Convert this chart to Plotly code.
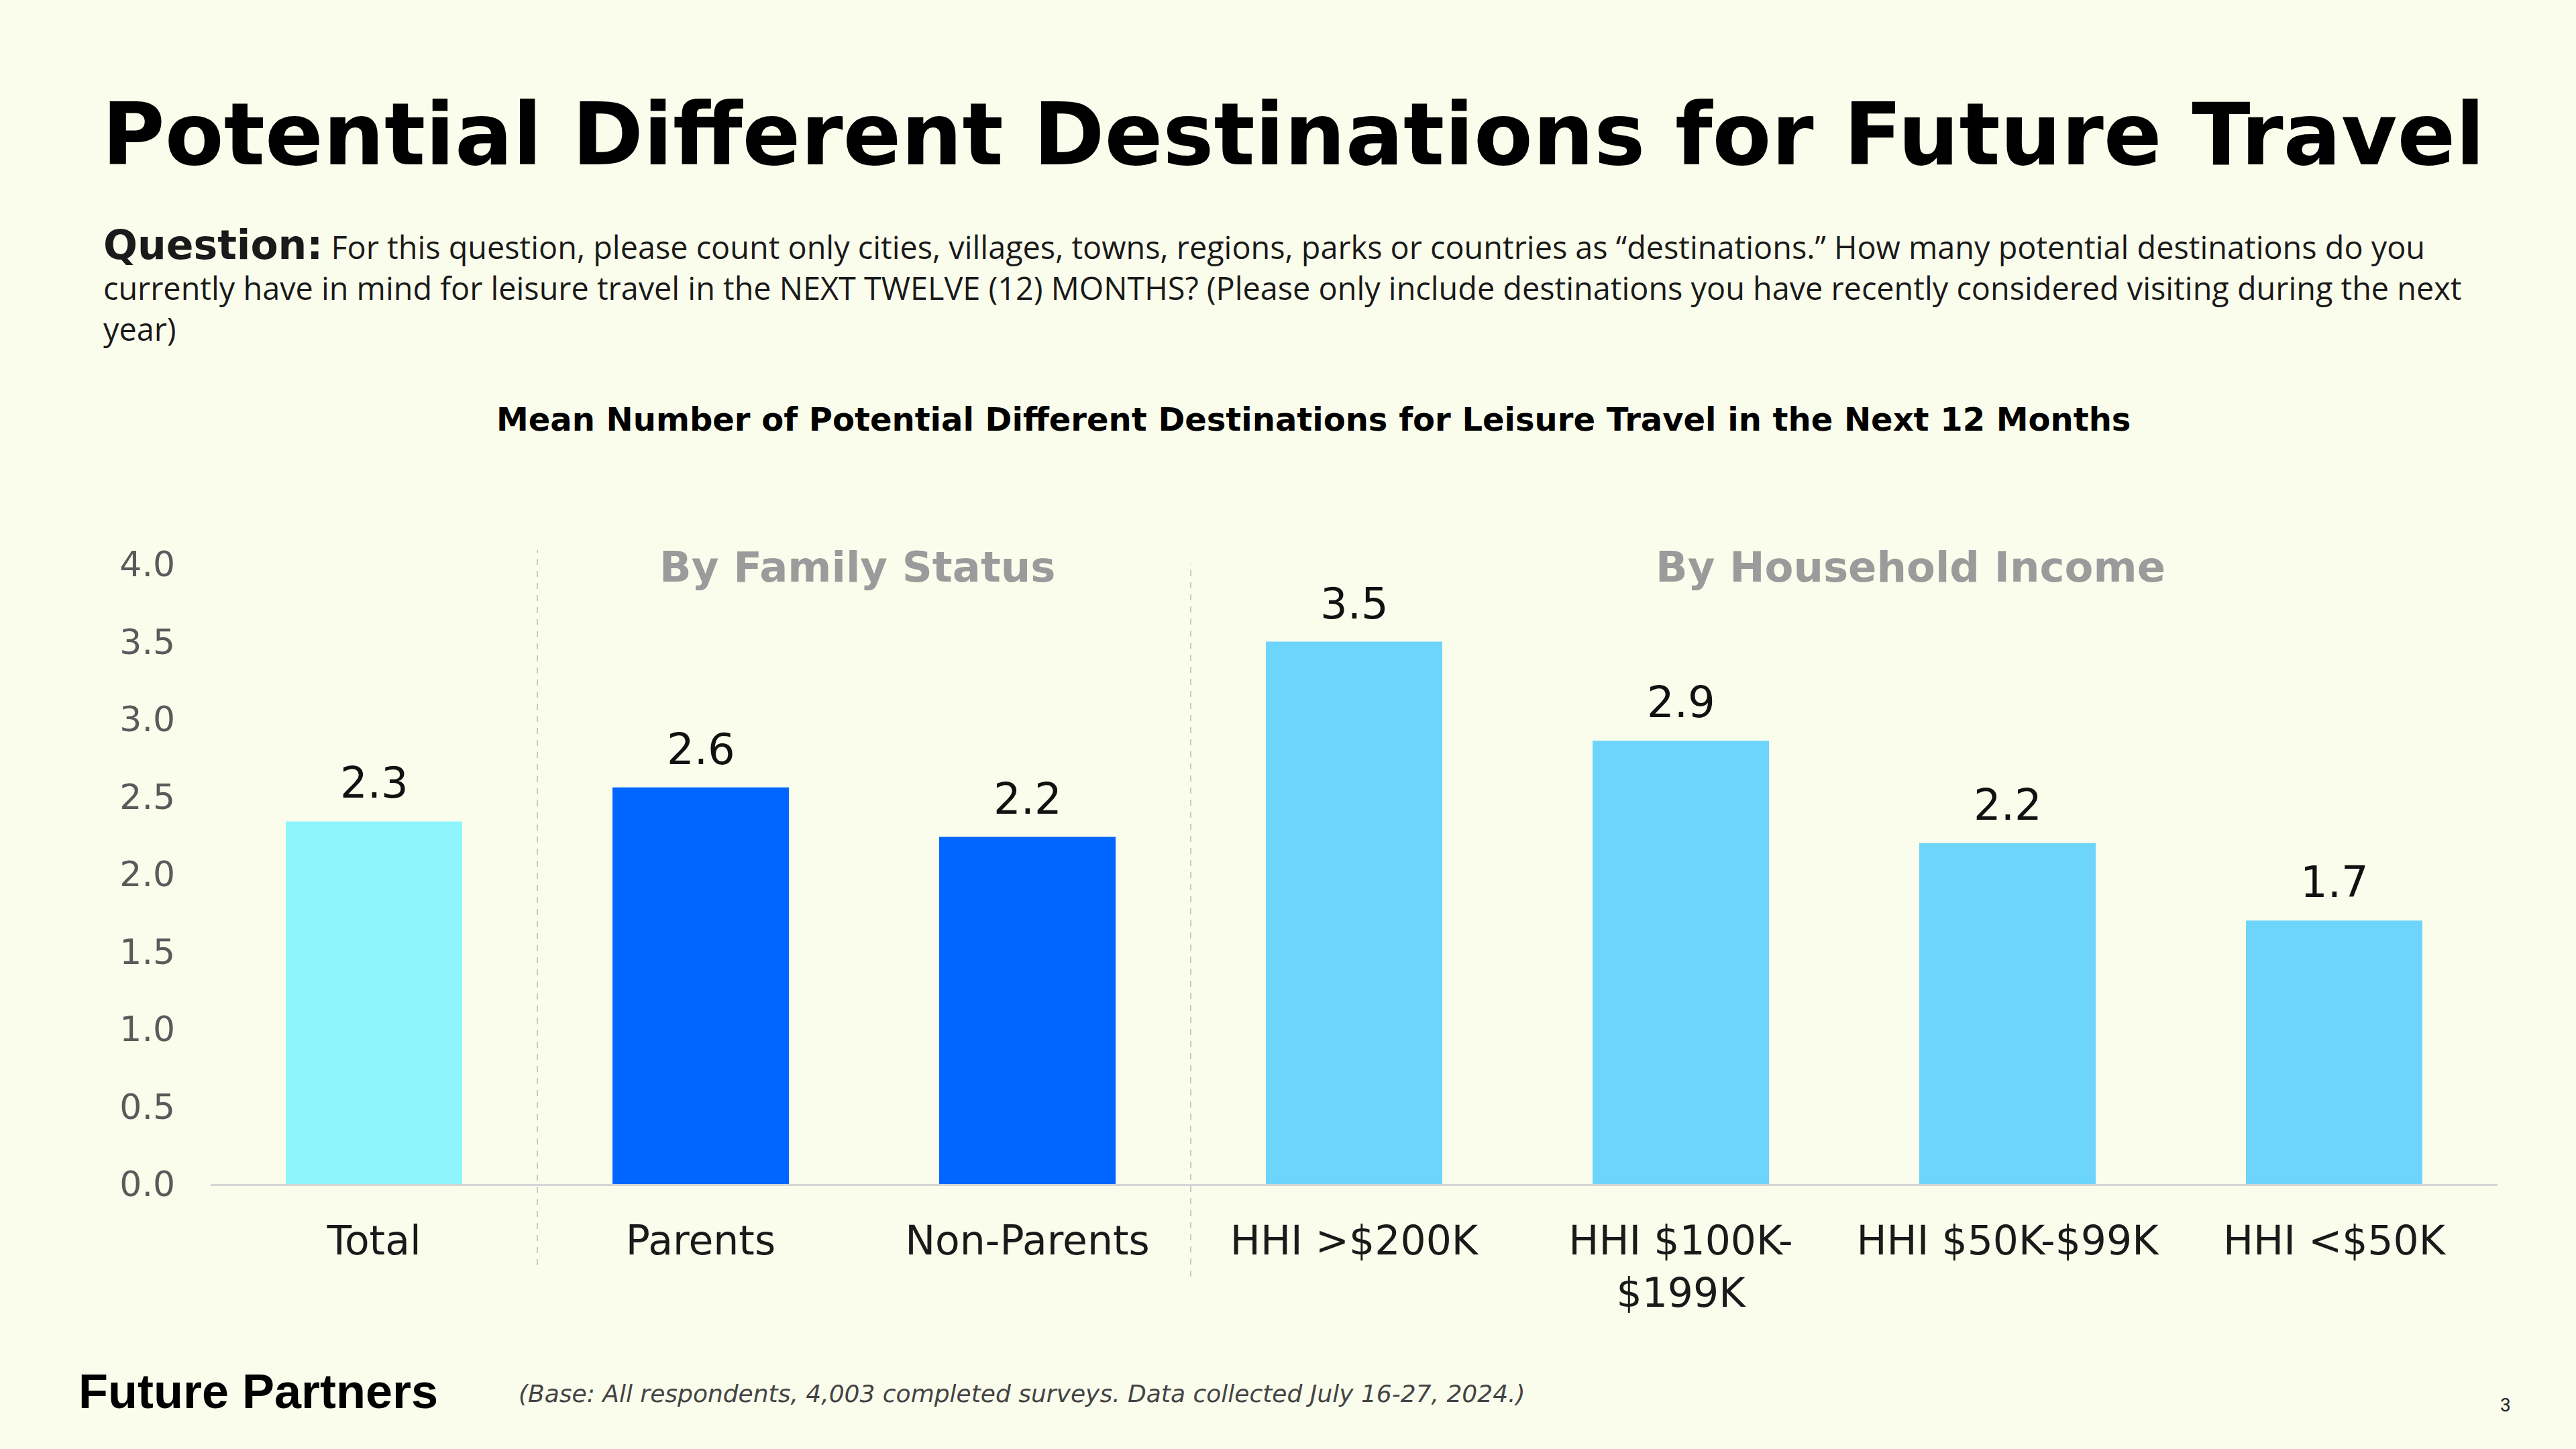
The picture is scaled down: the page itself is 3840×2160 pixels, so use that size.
import plotly.graph_objects as go

categories = ["Total", "Parents", "Non-Parents", "HHI >$200K", "HHI $100K-<br>$199K", "HHI $50K-$99K", "HHI <$50K"]
values = [2.34, 2.56, 2.24, 3.50, 2.86, 2.20, 1.70]
bar_colors = ["#8FF5FD", "#0066FF", "#0066FF", "#6DD4FC", "#6DD4FC", "#6DD4FC", "#6DD4FC"]
y_ticks = [0, 0.5, 1.0, 1.5, 2.0, 2.5, 3.0, 3.5, 4.0]
group_labels = ["By Family Status", "By Household Income"]

BG = "#FAFDEC"
W, H = 3840, 2160
L, R, T, B = 314, 3723, 841, 1765  # plot area pixels
DJ = "DejaVu Sans"


def px(x):
    return (x - L) / (R - L)


def py(y):
    return (B - y) / (B - T)


fig = go.Figure()
fig.add_trace(go.Bar(
    x=list(range(len(categories))), y=values,
    marker=dict(color=bar_colors, line=dict(width=0)),
    hoverinfo="skip",
))

annotations = []
for i, v in enumerate(values):
    annotations.append(dict(x=i, y=v, xref="x", yref="y", text=f"{v:.1f}",
                            showarrow=False, yanchor="bottom", yshift=18,
                            font=dict(family=DJ, size=64, color="#111111")))

annotations += [
    dict(x=px(150), y=py(201), xref="paper", yref="paper", xanchor="left", yanchor="middle",
         text="<b>Potential Different Destinations for Future Travel</b>", showarrow=False,
         font=dict(family=DJ, size=128, color="#000000")),
    dict(x=px(152), y=py(426), xref="paper", yref="paper", xanchor="left", yanchor="middle", align="left",
         text=("<span style=\"font-family:'DejaVu Sans';font-weight:bold;font-size:60px\">Question:</span> For this question, please count only cities, villages, towns, regions, parks or countries as “destinations.” How many potential destinations do you<br>"
               "currently have in mind for leisure travel in the NEXT TWELVE (12) MONTHS? (Please only include destinations you have recently considered visiting during the next<br>"
               "year)"),
         showarrow=False,
         font=dict(family="Open Sans", size=46.8, color="#1a1a1a")),
    dict(x=px(1958), y=py(625), xref="paper", yref="paper", xanchor="center", yanchor="middle",
         text="<b>Mean Number of Potential Different Destinations for Leisure Travel in the Next 12 Months</b>",
         showarrow=False, font=dict(family=DJ, size=48, color="#000000")),
    dict(x=px(1278), y=py(845), xref="paper", yref="paper", xanchor="center", yanchor="middle",
         text="<b>" + group_labels[0] + "</b>", showarrow=False,
         font=dict(family=DJ, size=62.5, color="#9B9B9B")),
    dict(x=px(2848), y=py(845), xref="paper", yref="paper", xanchor="center", yanchor="middle",
         text="<b>" + group_labels[1] + "</b>", showarrow=False,
         font=dict(family=DJ, size=62.5, color="#9B9B9B")),
    dict(x=px(115), y=py(2074), xref="paper", yref="paper", xanchor="left", yanchor="middle",
         text="<b>Future Partners</b>", showarrow=False,
         font=dict(family="Liberation Sans", size=72, color="#000000")),
    dict(x=px(771), y=py(2077), xref="paper", yref="paper", xanchor="left", yanchor="middle",
         text="<i>(Base: All respondents, 4,003 completed surveys. Data collected July 16-27, 2024.)</i>",
         showarrow=False, font=dict(family=DJ, size=36, color="#444444")),
    dict(x=px(3735), y=py(2094), xref="paper", yref="paper", xanchor="center", yanchor="middle",
         text="3", showarrow=False, font=dict(family="Roboto", size=28, color="#222222")),
]

shapes = [
    dict(type="line", xref="x", yref="paper", x0=0.5, x1=0.5, y0=py(1886), y1=py(820),
         line=dict(color="#C8C8C8", width=2, dash="dash")),
    dict(type="line", xref="x", yref="paper", x0=2.5, x1=2.5, y0=py(1903), y1=py(840),
         line=dict(color="#C8C8C8", width=2, dash="dash")),
]

fig.update_layout(
    width=W, height=H,
    paper_bgcolor=BG, plot_bgcolor=BG,
    margin=dict(l=L, r=W - R, t=T, b=H - B, pad=0),
    showlegend=False,
    bargap=0.46,
    annotations=annotations,
    shapes=shapes,
    xaxis=dict(
        tickmode="array", tickvals=list(range(len(categories))), ticktext=categories,
        range=[-0.5, len(categories) - 0.5],
        showline=True, linecolor="#D6D6D6", linewidth=3,
        showgrid=False, zeroline=False, ticks="",
        ticklabelstandoff=30,
        tickfont=dict(family=DJ, size=60, color="#1a1a1a"),
    ),
    yaxis=dict(
        range=[0, 4], tickmode="array", tickvals=y_ticks,
        ticktext=[f"{t:.1f}" for t in y_ticks],
        showgrid=False, zeroline=False, showline=False, ticks="",
        ticklabelstandoff=52,
        tickfont=dict(family=DJ, size=52, color="#5a5a5a"),
    ),
)

fig.write_html("out.html", config={"displayModeBar": False},
               post_script="document.body.style.margin='0';document.body.style.background='#FAFDEC';")
